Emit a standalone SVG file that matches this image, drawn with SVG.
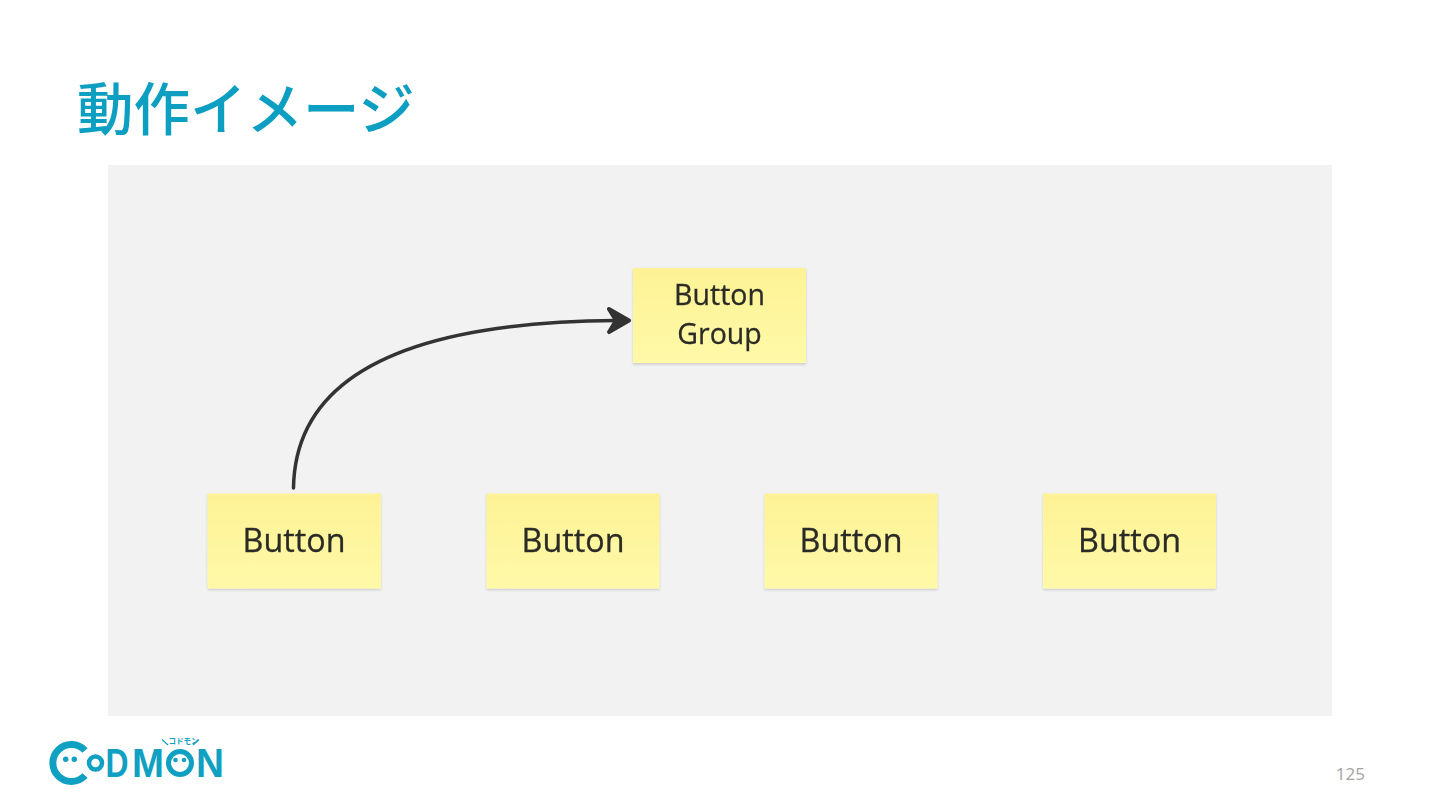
<svg xmlns="http://www.w3.org/2000/svg" width="1440" height="810" viewBox="0 0 1440 810">
<style>
.sticky{fill:url(#st);filter:url(#sh)}
.lbl{font-family:"Open Sans","Noto Sans",sans-serif;font-size:32.300px;fill:#2b2b26;stroke:#2b2b26;stroke-width:0.300px;text-anchor:middle;filter:url(#soft)}
.lbl2{font-size:28.500px}
.logo{fill:#0fa0c2}
.ring{fill:none;stroke:#0fa0c2}
.lt{font-family:"Liberation Sans",Arial,sans-serif;font-weight:700;font-size:40px;fill:#0fa0c2}
</style>
<defs>
<linearGradient id="st" x1="0" y1="0" x2="0" y2="1"><stop offset="0" stop-color="#fdf295"/><stop offset="1" stop-color="#fff9a8"/></linearGradient>
<filter id="sh" x="-5%" y="-5%" width="110%" height="115%"><feDropShadow dx="0" dy="1.500" stdDeviation="1.200" flood-color="#000" flood-opacity="0.160"/></filter>
<filter id="soft"><feGaussianBlur stdDeviation="0.400"/></filter>
<marker id="ah" markerUnits="userSpaceOnUse" markerWidth="30" markerHeight="32" refX="10" refY="14" orient="auto"><path d="M2 2.500 L22 14 L2 25.500 L9 14Z" fill="#333" stroke="#333" stroke-width="4" stroke-linejoin="round"/></marker>
</defs>
<rect width="1440" height="810" fill="#fff"/>
<text id="title" x="77" y="130" font-family="'Noto Sans CJK JP','Noto Sans',sans-serif" font-weight="500" font-size="56.500" fill="#0d9fc1">動作イメージ</text>
<rect id="panel" x="108" y="165" width="1224" height="551" fill="#f2f2f2"/>
<g id="connectors"><path d="M293.500 488 C295 385 390 322 617 320.500" fill="none" stroke="#333" stroke-width="3.500" stroke-linecap="round" marker-end="url(#ah)"/></g>
<g id="group"><rect class="sticky" x="633" y="268" width="173" height="95"/><text class="lbl lbl2" x="719.500" y="305">Button</text><text class="lbl lbl2" x="719.500" y="344">Group</text></g>
<g id="b1"><rect class="sticky" x="207.500" y="493.500" width="173.500" height="95"/><text class="lbl" x="294" y="552">Button</text></g>
<g id="b2"><rect class="sticky" x="486.500" y="493.500" width="173" height="95"/><text class="lbl" x="573" y="552">Button</text></g>
<g id="b3"><rect class="sticky" x="764.500" y="493.500" width="173" height="95"/><text class="lbl" x="851" y="552">Button</text></g>
<g id="b4"><rect class="sticky" x="1043" y="493.500" width="173" height="95"/><text class="lbl" x="1129.500" y="552">Button</text></g>
<g id="logo">
<path class="ring" stroke-width="7" d="M85 750.500 A18.500 18.500 0 1 0 85 775.500"/>
<circle class="logo" cx="65.700" cy="759.300" r="2.700"/><circle class="logo" cx="74.300" cy="759.300" r="2.700"/>
<circle class="ring" cx="95.500" cy="763" r="6.500" stroke-width="4.500"/>
<text class="lt" x="105.500" y="777" textLength="23" lengthAdjust="spacingAndGlyphs">D</text>
<text class="lt" x="132" y="777" textLength="32" lengthAdjust="spacingAndGlyphs">M</text>
<circle class="ring" cx="180" cy="763" r="11.500" stroke-width="5"/>
<circle class="logo" cx="175.500" cy="760" r="2.300"/><circle class="logo" cx="184" cy="760" r="2.300"/>
<text class="lt" x="196" y="777" textLength="28" lengthAdjust="spacingAndGlyphs">N</text>
<text x="168.500" y="744" font-family="'Noto Sans CJK JP',sans-serif" font-weight="700" font-size="7.500" fill="#0fa0c2">コドモン</text>
<path d="M162 739.500 L168 745 M199 739.500 L193 745" stroke="#0fa0c2" stroke-width="1.200" fill="none"/>
</g>
<text id="page" x="1365" y="780" text-anchor="end" font-family="'Open Sans',sans-serif" font-size="17" fill="#a3a3a3">125</text>
</svg>
